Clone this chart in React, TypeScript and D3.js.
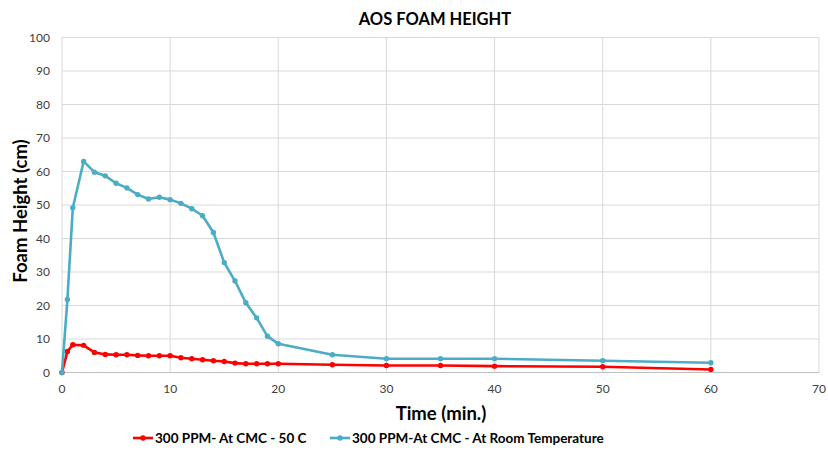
import React from "react";
import * as d3 from "d3";

const times = [0, 0.5, 1, 2, 3, 4, 5, 6, 7, 8, 9, 10, 11, 12, 13, 14, 15, 16, 17, 18, 19, 20, 25, 30, 35, 40, 50, 60];
const red50C = [0, 6.3, 8.3, 8.1, 6.0, 5.4, 5.3, 5.3, 5.1, 5.0, 5.0, 5.0, 4.4, 4.1, 3.8, 3.5, 3.3, 2.8, 2.6, 2.6, 2.6, 2.6, 2.3, 2.1, 2.1, 1.9, 1.7, 0.9];
const blueRoom = [0, 21.8, 49.2, 63, 59.8, 58.7, 56.5, 55.1, 53.1, 51.8, 52.3, 51.6, 50.5, 48.9, 46.8, 41.8, 32.8, 27.3, 20.8, 16.3, 10.8, 8.6, 5.3, 4.1, 4.1, 4.1, 3.5, 2.9];
const xTicks = [0, 10, 20, 30, 40, 50, 60, 70];
const yTicks = [0, 10, 20, 30, 40, 50, 60, 70, 80, 90, 100];
const seriesNames = ["300 PPM- At CMC - 50 C", "300 PPM-At CMC - At Room Temperature"];
const seriesColors = ["#ff0000", "#4bacc6"];

export default function App() {
  const W = 828, H = 450;
  const x = d3.scaleLinear().domain([0, 70]).range([62, 819]);
  const y = d3.scaleLinear().domain([0, 100]).range([372.5, 37.5]);
  const series = [red50C, blueRoom];
  const line = d3.line<[number, number]>().x(d => x(d[0])).y(d => y(d[1]));
  const font = "Lato, 'Open Sans', sans-serif";
  return (
    <svg width={W} height={H} style={{ position: "absolute", left: 0, top: 0, background: "#fff" }} fontFamily={font}>
      <rect width={W} height={H} fill="#fff" />
      <text x={435} y={25} textAnchor="middle" fontSize={16.5} fontWeight="bold" fill="#000">AOS FOAM HEIGHT</text>
      {yTicks.map(t => (
        <g key={"y" + t}>
          <line x1={x(0)} x2={x(70)} y1={y(t)} y2={y(t)} stroke="#d9d9d9" strokeWidth={1} />
          <text x={50} y={y(t) + 4} textAnchor="end" fontSize={12} fill="#404040">{t}</text>
        </g>
      ))}
      {xTicks.map(t => (
        <g key={"x" + t}>
          <line x1={x(t)} x2={x(t)} y1={y(0)} y2={y(100)} stroke="#d9d9d9" strokeWidth={1} />
          <text x={x(t)} y={393} textAnchor="middle" fontSize={12} fill="#404040">{t}</text>
        </g>
      ))}
      <line x1={x(0)} x2={x(70)} y1={y(0)} y2={y(0)} stroke="#bfbfbf" strokeWidth={1} />
      <text x={441} y={420} textAnchor="middle" fontSize={18.5} fontWeight="bold" fill="#000">Time (min.)</text>
      <text transform={`translate(27,211) rotate(-90)`} textAnchor="middle" fontSize={18.5} fontWeight="bold" fill="#000">Foam Height (cm)</text>
      {series.map((vals, i) => {
        const pts = times.map((t, j) => [t, vals[j]] as [number, number]);
        return (
          <g key={"s" + i}>
            <path d={line(pts) || ""} fill="none" stroke={seriesColors[i]} strokeWidth={2.6} strokeLinejoin="round" />
            {pts.map((p, j) => (
              <circle key={j} cx={x(p[0])} cy={y(p[1])} r={2.7} fill={seriesColors[i]} />
            ))}
          </g>
        );
      })}
      {[{ lx: 133, tx: 155 }, { lx: 330, tx: 352 }].map((l, i) => (
        <g key={"l" + i}>
          <line x1={l.lx} x2={l.lx + 20} y1={438} y2={438} stroke={seriesColors[i]} strokeWidth={2.6} />
          <circle cx={l.lx + 10} cy={438} r={2.7} fill={seriesColors[i]} />
          <text x={l.tx} y={443} fontSize={13.5} fontWeight="bold" fill="#000">{seriesNames[i]}</text>
        </g>
      ))}
    </svg>
  );
}
